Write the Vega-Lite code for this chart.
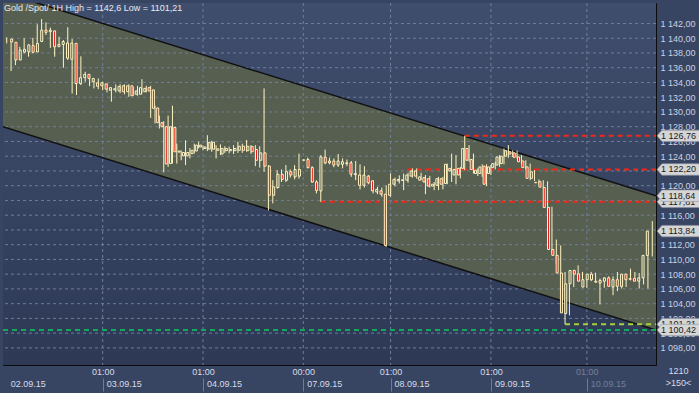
{
  "$schema": "https://vega.github.io/schema/vega-lite/v6.json",
  "width": 653,
  "height": 362,
  "autosize": {"type": "none"},
  "padding": {"left": 3, "top": 3, "right": 43, "bottom": 28},
  "background": "#384562",
  "title": {"text": "Gold /Spot/  1H High = 1142,6 Low = 1101,21", "anchor": "start", "frame": "group", "orient": "top", "offset": -19, "baseline": "bottom", "dx": 1, "fontSize": 9, "fontWeight": "normal", "color": "#e8eaf0", "font": "Liberation Sans"},
  "datasets": {
    "bg": [{"a": -0.85, "b": 148.85, "lo": 1095.68, "hi": 1144.78}],
    "chan": [{"t": -0.85, "up": 1146.22, "lo": 1128.0}, {"t": 148.85, "up": 1118.64, "lo": 1100.42}],
    "clines": [{"x0": -0.85, "x1": 148.85, "y0": 1146.22, "y1": 1118.64}, {"x0": -0.85, "x1": 148.85, "y0": 1128.0, "y1": 1100.42}],
    "ygrid": [{"g":1098},{"g":1100},{"g":1102},{"g":1104},{"g":1106},{"g":1108},{"g":1110},{"g":1112},{"g":1114},{"g":1116},{"g":1118},{"g":1120},{"g":1122},{"g":1124},{"g":1126},{"g":1128},{"g":1130},{"g":1132},{"g":1134},{"g":1136},{"g":1138},{"g":1140},{"g":1142}],
    "xgrid": [{"g":22},{"g":45},{"g":68},{"g":88},{"g":111},{"g":133}],
    "levels": [
      {"s":105,"e":148.85,"v":1126.76,"k":"r"},
      {"s":92,"e":148.85,"v":1122.2,"k":"r"},
      {"s":72,"e":148.85,"v":1117.81,"k":"r"},
      {"s":128,"e":148.85,"v":1101.21,"k":"y"},
      {"s":-0.85,"e":148.85,"v":1100.42,"k":"g"}
    ],
    "tags": [
      {"v":1117.81,"lab":"1 117,81","z":0},
      {"v":1101.21,"lab":"1 101,21","z":0},
      {"v":1126.76,"lab":"1 126,76","z":1},
      {"v":1122.2,"lab":"1 122,20","z":1},
      {"v":1118.64,"lab":"1 118,64","z":1},
      {"v":1113.84,"lab":"1 113,84","z":1},
      {"v":1100.42,"lab":"1 100,42","z":1}
    ],
    "dates": [{"t":0},{"t":22},{"t":45},{"t":68},{"t":88},{"t":111},{"t":133}],
    "candles": [
      {"i":0,"o":1139.9,"h":1140.1,"l":1139.3,"c":1139.5},
      {"i":1,"o":1139.45,"h":1139.5,"l":1135.55,"c":1137.05},
      {"i":2,"o":1137.05,"h":1138.7,"l":1136.35,"c":1138.4},
      {"i":3,"o":1138.15,"h":1138.85,"l":1137.05,"c":1138.5},
      {"i":4,"o":1138.15,"h":1140.0,"l":1137.95,"c":1139.1},
      {"i":5,"o":1139.0,"h":1139.2,"l":1137.5,"c":1138.1},
      {"i":6,"o":1138.15,"h":1140.05,"l":1137.95,"c":1139.3},
      {"i":7,"o":1139.55,"h":1141.9,"l":1139.3,"c":1141.1},
      {"i":8,"o":1141.1,"h":1142.6,"l":1140.65,"c":1140.8},
      {"i":9,"o":1140.9,"h":1142.15,"l":1140.45,"c":1141.1},
      {"i":10,"o":1141.0,"h":1141.45,"l":1138.7,"c":1138.85},
      {"i":11,"o":1138.85,"h":1140.45,"l":1137.5,"c":1139.15},
      {"i":12,"o":1139.15,"h":1140.2,"l":1138.85,"c":1139.55},
      {"i":13,"o":1137.3,"h":1139.75,"l":1136.0,"c":1139.35},
      {"i":14,"o":1137.15,"h":1141.5,"l":1137.05,"c":1139.35},
      {"i":15,"o":1139.3,"h":1139.9,"l":1132.5,"c":1133.85},
      {"i":16,"o":1133.85,"h":1135.25,"l":1132.3,"c":1134.65},
      {"i":17,"o":1134.65,"h":1137.55,"l":1133.65,"c":1135.1},
      {"i":18,"o":1135.1,"h":1135.45,"l":1134.1,"c":1134.55},
      {"i":19,"o":1134.1,"h":1134.9,"l":1133.5,"c":1134.55},
      {"i":20,"o":1133.95,"h":1134.4,"l":1133.2,"c":1133.5},
      {"i":21,"o":1133.55,"h":1134.55,"l":1133.1,"c":1133.95},
      {"i":22,"o":1133.8,"h":1134.1,"l":1132.95,"c":1133.1},
      {"i":23,"o":1132.95,"h":1133.85,"l":1132.65,"c":1133.3},
      {"i":24,"o":1133.0,"h":1133.3,"l":1131.4,"c":1133.15},
      {"i":25,"o":1132.85,"h":1133.75,"l":1132.65,"c":1133.45},
      {"i":26,"o":1133.55,"h":1133.75,"l":1132.55,"c":1132.75},
      {"i":27,"o":1132.75,"h":1133.75,"l":1132.4,"c":1133.55},
      {"i":28,"o":1133.55,"h":1133.75,"l":1132.05,"c":1132.2},
      {"i":29,"o":1132.4,"h":1133.4,"l":1132.2,"c":1132.85},
      {"i":30,"o":1132.4,"h":1133.55,"l":1132.2,"c":1133.3},
      {"i":31,"o":1132.75,"h":1134.45,"l":1132.5,"c":1133.2},
      {"i":32,"o":1133.3,"h":1133.55,"l":1132.65,"c":1132.85},
      {"i":33,"o":1133.0,"h":1133.55,"l":1129.2,"c":1130.5},
      {"i":34,"o":1130.55,"h":1130.85,"l":1128.45,"c":1128.55},
      {"i":35,"o":1128.55,"h":1129.5,"l":1127.75,"c":1128.0},
      {"i":36,"o":1128.0,"h":1128.75,"l":1121.8,"c":1122.95},
      {"i":37,"o":1123.0,"h":1129.5,"l":1122.55,"c":1128.0},
      {"i":38,"o":1127.9,"h":1130.85,"l":1123.0,"c":1124.6},
      {"i":39,"o":1124.55,"h":1125.7,"l":1123.0,"c":1124.7},
      {"i":40,"o":1124.5,"h":1124.8,"l":1123.45,"c":1124.05},
      {"i":41,"o":1124.05,"h":1126.15,"l":1122.8,"c":1124.5},
      {"i":42,"o":1124.35,"h":1125.1,"l":1123.7,"c":1124.8},
      {"i":43,"o":1124.7,"h":1125.7,"l":1124.35,"c":1125.5},
      {"i":44,"o":1125.25,"h":1125.95,"l":1125.05,"c":1125.5},
      {"i":45,"o":1125.05,"h":1125.45,"l":1124.8,"c":1125.25},
      {"i":46,"o":1124.95,"h":1126.85,"l":1124.7,"c":1125.85},
      {"i":47,"o":1125.9,"h":1126.1,"l":1124.6,"c":1124.95},
      {"i":48,"o":1124.8,"h":1125.5,"l":1123.7,"c":1125.0},
      {"i":49,"o":1124.3,"h":1125.6,"l":1124.15,"c":1125.05},
      {"i":50,"o":1124.75,"h":1125.35,"l":1124.45,"c":1125.05},
      {"i":51,"o":1124.75,"h":1125.3,"l":1124.4,"c":1124.9},
      {"i":52,"o":1124.75,"h":1125.5,"l":1124.3,"c":1125.05},
      {"i":53,"o":1124.8,"h":1125.95,"l":1124.45,"c":1125.35},
      {"i":54,"o":1125.35,"h":1125.7,"l":1124.45,"c":1124.8},
      {"i":55,"o":1124.75,"h":1126.2,"l":1124.6,"c":1125.35},
      {"i":56,"o":1125.3,"h":1125.5,"l":1124.3,"c":1124.6},
      {"i":57,"o":1124.9,"h":1125.5,"l":1122.65,"c":1123.45},
      {"i":58,"o":1123.45,"h":1125.35,"l":1122.45,"c":1124.45},
      {"i":59,"o":1124.45,"h":1133.2,"l":1121.9,"c":1122.65},
      {"i":60,"o":1122.65,"h":1122.8,"l":1116.65,"c":1118.7},
      {"i":61,"o":1118.7,"h":1120.75,"l":1117.6,"c":1119.85},
      {"i":62,"o":1119.75,"h":1122.1,"l":1119.6,"c":1121.55},
      {"i":63,"o":1121.55,"h":1122.2,"l":1120.5,"c":1120.85},
      {"i":64,"o":1120.75,"h":1122.8,"l":1120.5,"c":1121.9},
      {"i":65,"o":1121.9,"h":1122.2,"l":1121.1,"c":1121.45},
      {"i":66,"o":1121.2,"h":1122.8,"l":1120.85,"c":1122.2},
      {"i":67,"o":1121.3,"h":1124.35,"l":1120.95,"c":1122.2},
      {"i":68,"o":1123.45,"h":1123.55,"l":1123.4,"c":1123.5},
      {"i":69,"o":1123.55,"h":1123.8,"l":1122.35,"c":1122.45},
      {"i":70,"o":1122.45,"h":1122.65,"l":1120.4,"c":1120.5},
      {"i":71,"o":1120.5,"h":1120.75,"l":1118.95,"c":1119.35},
      {"i":72,"o":1119.3,"h":1124.15,"l":1117.81,"c":1123.9},
      {"i":73,"o":1123.85,"h":1124.9,"l":1122.9,"c":1123.1},
      {"i":74,"o":1123.1,"h":1123.8,"l":1122.9,"c":1123.35},
      {"i":75,"o":1123.35,"h":1123.7,"l":1122.5,"c":1122.8},
      {"i":76,"o":1122.8,"h":1124.3,"l":1122.55,"c":1123.35},
      {"i":77,"o":1122.9,"h":1123.7,"l":1122.35,"c":1123.25},
      {"i":78,"o":1123.1,"h":1123.55,"l":1122.65,"c":1123.0},
      {"i":79,"o":1123.1,"h":1123.35,"l":1121.2,"c":1121.55},
      {"i":80,"o":1121.5,"h":1123.35,"l":1120.75,"c":1121.65},
      {"i":81,"o":1121.45,"h":1122.9,"l":1119.5,"c":1120.05},
      {"i":82,"o":1120.05,"h":1122.65,"l":1119.75,"c":1121.45},
      {"i":83,"o":1121.3,"h":1121.45,"l":1120.2,"c":1120.4},
      {"i":84,"o":1120.65,"h":1120.75,"l":1118.95,"c":1119.3},
      {"i":85,"o":1119.15,"h":1119.85,"l":1118.85,"c":1119.5},
      {"i":86,"o":1119.3,"h":1119.75,"l":1118.5,"c":1118.85},
      {"i":87,"o":1118.85,"h":1120.05,"l":1111.7,"c":1111.9},
      {"i":88,"o":1118.7,"h":1121.65,"l":1118.5,"c":1120.2},
      {"i":89,"o":1120.2,"h":1121.1,"l":1119.9,"c":1120.85},
      {"i":90,"o":1120.65,"h":1121.4,"l":1120.3,"c":1120.85},
      {"i":91,"o":1120.8,"h":1121.65,"l":1119.4,"c":1120.7},
      {"i":92,"o":1120.75,"h":1121.75,"l":1120.4,"c":1121.45},
      {"i":93,"o":1121.3,"h":1122.35,"l":1121.1,"c":1122.0},
      {"i":94,"o":1122.0,"h":1122.35,"l":1120.95,"c":1121.3},
      {"i":95,"o":1120.75,"h":1121.75,"l":1120.75,"c":1121.2},
      {"i":96,"o":1121.1,"h":1121.45,"l":1118.85,"c":1120.5},
      {"i":97,"o":1120.95,"h":1121.3,"l":1119.75,"c":1119.95},
      {"i":98,"o":1119.95,"h":1120.5,"l":1119.4,"c":1120.2},
      {"i":99,"o":1120.05,"h":1121.2,"l":1119.4,"c":1120.95},
      {"i":100,"o":1120.95,"h":1121.2,"l":1119.5,"c":1120.2},
      {"i":101,"o":1120.3,"h":1123.0,"l":1120.2,"c":1122.9},
      {"i":102,"o":1122.0,"h":1124.35,"l":1120.5,"c":1122.35},
      {"i":103,"o":1121.45,"h":1124.15,"l":1120.2,"c":1122.2},
      {"i":104,"o":1122.35,"h":1122.55,"l":1121.0,"c":1121.45},
      {"i":105,"o":1122.35,"h":1126.76,"l":1122.1,"c":1125.05},
      {"i":106,"o":1125.05,"h":1125.5,"l":1123.25,"c":1123.45},
      {"i":107,"o":1123.55,"h":1124.35,"l":1121.65,"c":1122.2},
      {"i":108,"o":1121.65,"h":1122.35,"l":1121.3,"c":1122.1},
      {"i":109,"o":1121.65,"h":1122.9,"l":1121.2,"c":1122.55},
      {"i":110,"o":1122.65,"h":1122.9,"l":1119.95,"c":1120.2},
      {"i":111,"o":1121.65,"h":1122.8,"l":1121.45,"c":1122.55},
      {"i":112,"o":1122.45,"h":1123.25,"l":1122.2,"c":1123.0},
      {"i":113,"o":1122.8,"h":1124.15,"l":1122.55,"c":1123.9},
      {"i":114,"o":1123.0,"h":1125.05,"l":1122.9,"c":1124.0},
      {"i":115,"o":1124.0,"h":1125.5,"l":1123.8,"c":1124.75},
      {"i":116,"o":1124.6,"h":1124.8,"l":1123.9,"c":1124.3},
      {"i":117,"o":1124.45,"h":1124.75,"l":1123.7,"c":1123.85},
      {"i":118,"o":1123.9,"h":1124.15,"l":1122.95,"c":1123.25},
      {"i":119,"o":1123.35,"h":1123.45,"l":1122.2,"c":1122.45},
      {"i":120,"o":1122.55,"h":1123.0,"l":1120.75,"c":1121.0},
      {"i":121,"o":1121.0,"h":1122.1,"l":1120.65,"c":1121.9},
      {"i":122,"o":1120.45,"h":1120.85,"l":1120.05,"c":1120.4},
      {"i":123,"o":1120.55,"h":1120.75,"l":1119.6,"c":1119.8},
      {"i":124,"o":1119.75,"h":1120.6,"l":1116.3,"c":1117.05},
      {"i":125,"o":1117.05,"h":1117.15,"l":1110.8,"c":1111.35},
      {"i":126,"o":1111.35,"h":1112.7,"l":1109.45,"c":1110.55},
      {"i":127,"o":1110.55,"h":1111.9,"l":1108.0,"c":1108.15},
      {"i":128,"o":1108.15,"h":1108.3,"l":1101.21,"c":1102.75},
      {"i":129,"o":1102.65,"h":1106.8,"l":1102.4,"c":1106.7},
      {"i":130,"o":1106.7,"h":1108.6,"l":1106.25,"c":1108.5},
      {"i":131,"o":1108.5,"h":1109.2,"l":1107.6,"c":1108.0},
      {"i":132,"o":1108.05,"h":1108.3,"l":1106.95,"c":1107.05},
      {"i":133,"o":1106.25,"h":1107.6,"l":1106.15,"c":1107.25},
      {"i":134,"o":1107.25,"h":1108.3,"l":1107.05,"c":1108.0},
      {"i":135,"o":1108.0,"h":1108.2,"l":1107.05,"c":1107.25},
      {"i":136,"o":1107.05,"h":1107.4,"l":1103.9,"c":1106.9},
      {"i":137,"o":1106.8,"h":1107.6,"l":1106.15,"c":1107.15},
      {"i":138,"o":1107.05,"h":1107.7,"l":1106.6,"c":1107.5},
      {"i":139,"o":1107.5,"h":1107.7,"l":1105.15,"c":1106.35},
      {"i":140,"o":1106.25,"h":1108.3,"l":1105.7,"c":1107.25},
      {"i":141,"o":1107.25,"h":1107.6,"l":1106.05,"c":1106.35},
      {"i":142,"o":1106.35,"h":1108.05,"l":1106.25,"c":1108.0},
      {"i":143,"o":1108.0,"h":1108.75,"l":1107.15,"c":1107.25},
      {"i":144,"o":1107.4,"h":1108.3,"l":1107.25,"c":1107.3},
      {"i":145,"o":1107.4,"h":1108.15,"l":1106.05,"c":1107.05},
      {"i":146,"o":1107.05,"h":1108.3,"l":1106.6,"c":1107.5},
      {"i":147,"o":1107.5,"h":1112.35,"l":1106.05,"c":1110.55},
      {"i":148,"o":1110.55,"h":1115.2,"l":1110.4,"c":1113.84}
    ]
  },
  "layer": [
    {
      "data": {"name": "bg"},
      "mark": {"type": "rect", "fill": {"gradient": "linear", "x1": 0, "y1": 0, "x2": 0, "y2": 1, "stops": [{"offset": 0, "color": "#404e6d"}, {"offset": 1, "color": "#2d3955"}]}},
      "encoding": {
        "x": {"field": "a", "type": "quantitative", "scale": {"domain": [-0.85, 148.85], "nice": false, "zero": false}, "axis": null},
        "x2": {"field": "b"},
        "y": {"field": "lo", "type": "quantitative", "scale": {"domain": [1095.68, 1144.78], "nice": false, "zero": false}},
        "y2": {"field": "hi"}
      }
    },
    {
      "data": {"name": "chan"},
      "mark": {"type": "area", "fill": "#576050", "clip": true, "opacity": 1},
      "encoding": {
        "x": {"field": "t", "type": "quantitative", "scale": {"domain": [-0.85, 148.85], "nice": false, "zero": false}, "axis": null},
        "y": {"field": "up", "type": "quantitative", "scale": {"domain": [1095.68, 1144.78], "nice": false, "zero": false}},
        "y2": {"field": "lo"}
      }
    },
    {
      "data": {"name": "ygrid"},
      "mark": {"type": "rule", "stroke": "#6f7d9b", "strokeDash": [3, 3], "strokeWidth": 1},
      "encoding": {
        "y": {"field": "g", "type": "quantitative", "scale": {"domain": [1095.68, 1144.78], "nice": false, "zero": false},
          "axis": {"orient": "right", "zindex": 0, "values": [1098,1100,1102,1104,1106,1108,1110,1112,1114,1116,1118,1120,1122,1124,1126,1128,1130,1132,1134,1136,1138,1140,1142], "tickCount": 40, "labelExpr": "replace(replace(format(datum.value, ',.2f'), ',', ' '), '.', ',')", "domain": false, "ticks": false, "grid": false, "labelPadding": 4, "labelFontSize": 9, "labelFont": "Liberation Sans", "labelColor": "#cbd2e2", "labelFlush": false, "labelOverlap": false, "labelBound": false, "title": ["1210", ">150<"], "titleAngle": 0, "titleX": 22, "titleY": 363, "titleBaseline": "top", "titleAlign": "center", "titleFontSize": 9, "titleFontWeight": "normal", "titleFont": "Liberation Sans", "titleColor": "#d6dcea", "titleLineHeight": 12.3}}
      }
    },
    {
      "data": {"name": "xgrid"},
      "mark": {"type": "rule", "stroke": "#6f7d9b", "strokeDash": [3, 3], "strokeWidth": 1},
      "encoding": {
        "x": {"field": "g", "type": "quantitative", "scale": {"domain": [-0.85, 148.85], "nice": false, "zero": false},
          "axis": {"orient": "bottom", "zindex": 0, "values": [22, 45, 68, 88, 111, 133], "tickCount": 40, "labelExpr": "datum.value == 68 ? '00:00' : '01:00'", "domain": false, "ticks": false, "grid": false, "labelPadding": 2, "labelFontSize": 9, "labelFont": "Liberation Sans", "labelColor": {"condition": {"test": "datum.value > 130", "value": "#737e98"}, "value": "#d6dcea"}, "title": null, "labelFlush": false, "labelOverlap": false}}
      }
    },
    {
      "data": {"name": "clines"},
      "mark": {"type": "rule", "stroke": "#111111", "strokeWidth": 1.5, "clip": true},
      "encoding": {
        "x": {"field": "x0", "type": "quantitative", "scale": {"domain": [-0.85, 148.85], "nice": false, "zero": false}, "axis": null},
        "x2": {"field": "x1"},
        "y": {"field": "y0", "type": "quantitative", "scale": {"domain": [1095.68, 1144.78], "nice": false, "zero": false}},
        "y2": {"field": "y1"}
      }
    },
    {
      "data": {"name": "levels"},
      "mark": {"type": "rule", "strokeWidth": 2, "strokeDash": [5, 4]},
      "encoding": {
        "x": {"field": "s", "type": "quantitative", "scale": {"domain": [-0.85, 148.85], "nice": false, "zero": false}, "axis": null},
        "x2": {"field": "e"},
        "y": {"field": "v", "type": "quantitative", "scale": {"domain": [1095.68, 1144.78], "nice": false, "zero": false}},
        "color": {"field": "k", "type": "nominal", "scale": {"domain": ["r", "y", "g"], "range": ["#f0281a", "#a6d23c", "#14a85c"]}, "legend": null}
      }
    },
    {
      "data": {"name": "candles"},
      "mark": {"type": "rule", "stroke": "#fff3c2", "strokeWidth": 1},
      "encoding": {
        "x": {"field": "i", "type": "quantitative", "scale": {"domain": [-0.85, 148.85], "nice": false, "zero": false}, "axis": null},
        "y": {"field": "l", "type": "quantitative", "scale": {"domain": [1095.68, 1144.78], "nice": false, "zero": false}},
        "y2": {"field": "h"}
      }
    },
    {
      "data": {"name": "candles"},
      "mark": {"type": "bar", "size": 2, "stroke": "#fff3c2", "strokeWidth": 1},
      "encoding": {
        "x": {"field": "i", "type": "quantitative", "scale": {"domain": [-0.85, 148.85], "nice": false, "zero": false}, "axis": null},
        "y": {"field": "o", "type": "quantitative", "scale": {"domain": [1095.68, 1144.78], "nice": false, "zero": false}},
        "y2": {"field": "c"},
        "fill": {"condition": {"test": "datum.c < datum.o", "value": "#e8130f"}, "value": "#576050"}
      }
    },
    {
      "data": {"name": "tags"},
      "transform": [{"filter": "datum.z == 0"}],
      "mark": {"type": "point", "shape": "M0.05,0L0.27,-0.26L2.1,-0.26L2.1,0.26L0.27,0.26Z", "size": 1936, "filled": true, "fill": "#d5d5d5", "stroke": "#8d95a5", "strokeWidth": 0.6, "opacity": 1},
      "encoding": {
        "x": {"datum": 148.85, "type": "quantitative", "scale": {"domain": [-0.85, 148.85], "nice": false, "zero": false}, "axis": null},
        "y": {"field": "v", "type": "quantitative", "scale": {"domain": [1095.68, 1144.78], "nice": false, "zero": false}}
      }
    },
    {
      "data": {"name": "tags"},
      "transform": [{"filter": "datum.z == 0"}],
      "mark": {"type": "text", "align": "left", "baseline": "middle", "dx": 5, "fontSize": 9, "font": "Liberation Sans", "color": "#1b1b1b"},
      "encoding": {
        "x": {"datum": 148.85, "type": "quantitative", "scale": {"domain": [-0.85, 148.85], "nice": false, "zero": false}, "axis": null},
        "y": {"field": "v", "type": "quantitative", "scale": {"domain": [1095.68, 1144.78], "nice": false, "zero": false}},
        "text": {"field": "lab"}
      }
    },
    {
      "data": {"name": "tags"},
      "transform": [{"filter": "datum.z == 1"}],
      "mark": {"type": "point", "shape": "M0.05,0L0.27,-0.26L2.1,-0.26L2.1,0.26L0.27,0.26Z", "size": 1936, "filled": true, "fill": "#d5d5d5", "stroke": "#8d95a5", "strokeWidth": 0.6, "opacity": 1},
      "encoding": {
        "x": {"datum": 148.85, "type": "quantitative", "scale": {"domain": [-0.85, 148.85], "nice": false, "zero": false}, "axis": null},
        "y": {"field": "v", "type": "quantitative", "scale": {"domain": [1095.68, 1144.78], "nice": false, "zero": false}}
      }
    },
    {
      "data": {"name": "tags"},
      "transform": [{"filter": "datum.z == 1"}],
      "mark": {"type": "text", "align": "left", "baseline": "middle", "dx": 5, "fontSize": 9, "font": "Liberation Sans", "color": "#1b1b1b"},
      "encoding": {
        "x": {"datum": 148.85, "type": "quantitative", "scale": {"domain": [-0.85, 148.85], "nice": false, "zero": false}, "axis": null},
        "y": {"field": "v", "type": "quantitative", "scale": {"domain": [1095.68, 1144.78], "nice": false, "zero": false}},
        "text": {"field": "lab"}
      }
    },
    {
      "data": {"name": "dates"},
      "mark": {"type": "rule", "opacity": 0},
      "encoding": {
        "x": {"field": "t", "type": "quantitative", "scale": {"domain": [-0.85, 148.85], "nice": false, "zero": false},
          "axis": {"orient": "bottom", "zindex": 0, "values": [0, 22, 45, 68, 88, 111, 133], "tickCount": 40, "labelExpr": "datum.value == 0 ? '02.09.15' : datum.value == 22 ? '03.09.15' : datum.value == 45 ? '04.09.15' : datum.value == 68 ? '07.09.15' : datum.value == 88 ? '08.09.15' : datum.value == 111 ? '09.09.15' : '10.09.15'", "offset": 13, "ticks": true, "tickSize": 13, "tickWidth": 1, "tickColor": {"condition": {"test": "datum.value < 1", "value": "transparent"}, "value": "#6d7b99"}, "labelPadding": -12, "labelAlign": "left", "labelOffset": 3.5, "labelBaseline": "top", "domain": false, "grid": false, "title": null, "labelFlush": false, "labelOverlap": false, "labelFontSize": 9, "labelFont": "Liberation Sans", "labelColor": {"condition": {"test": "datum.value > 130", "value": "#737e98"}, "value": "#d6dcea"}}}
      }
    }
  ],
  "resolve": {"scale": {"x": "independent"}},
  "config": {
    "view": {"stroke": "#0c0c0c", "strokeWidth": 1},
    "font": "Liberation Sans",
    "axis": {"labelOverlap": false, "labelFlush": false, "labelBound": false},
    "axisY": {"labelOverlap": false, "labelFlush": false, "grid": false, "ticks": false, "domain": false}
  }
}
